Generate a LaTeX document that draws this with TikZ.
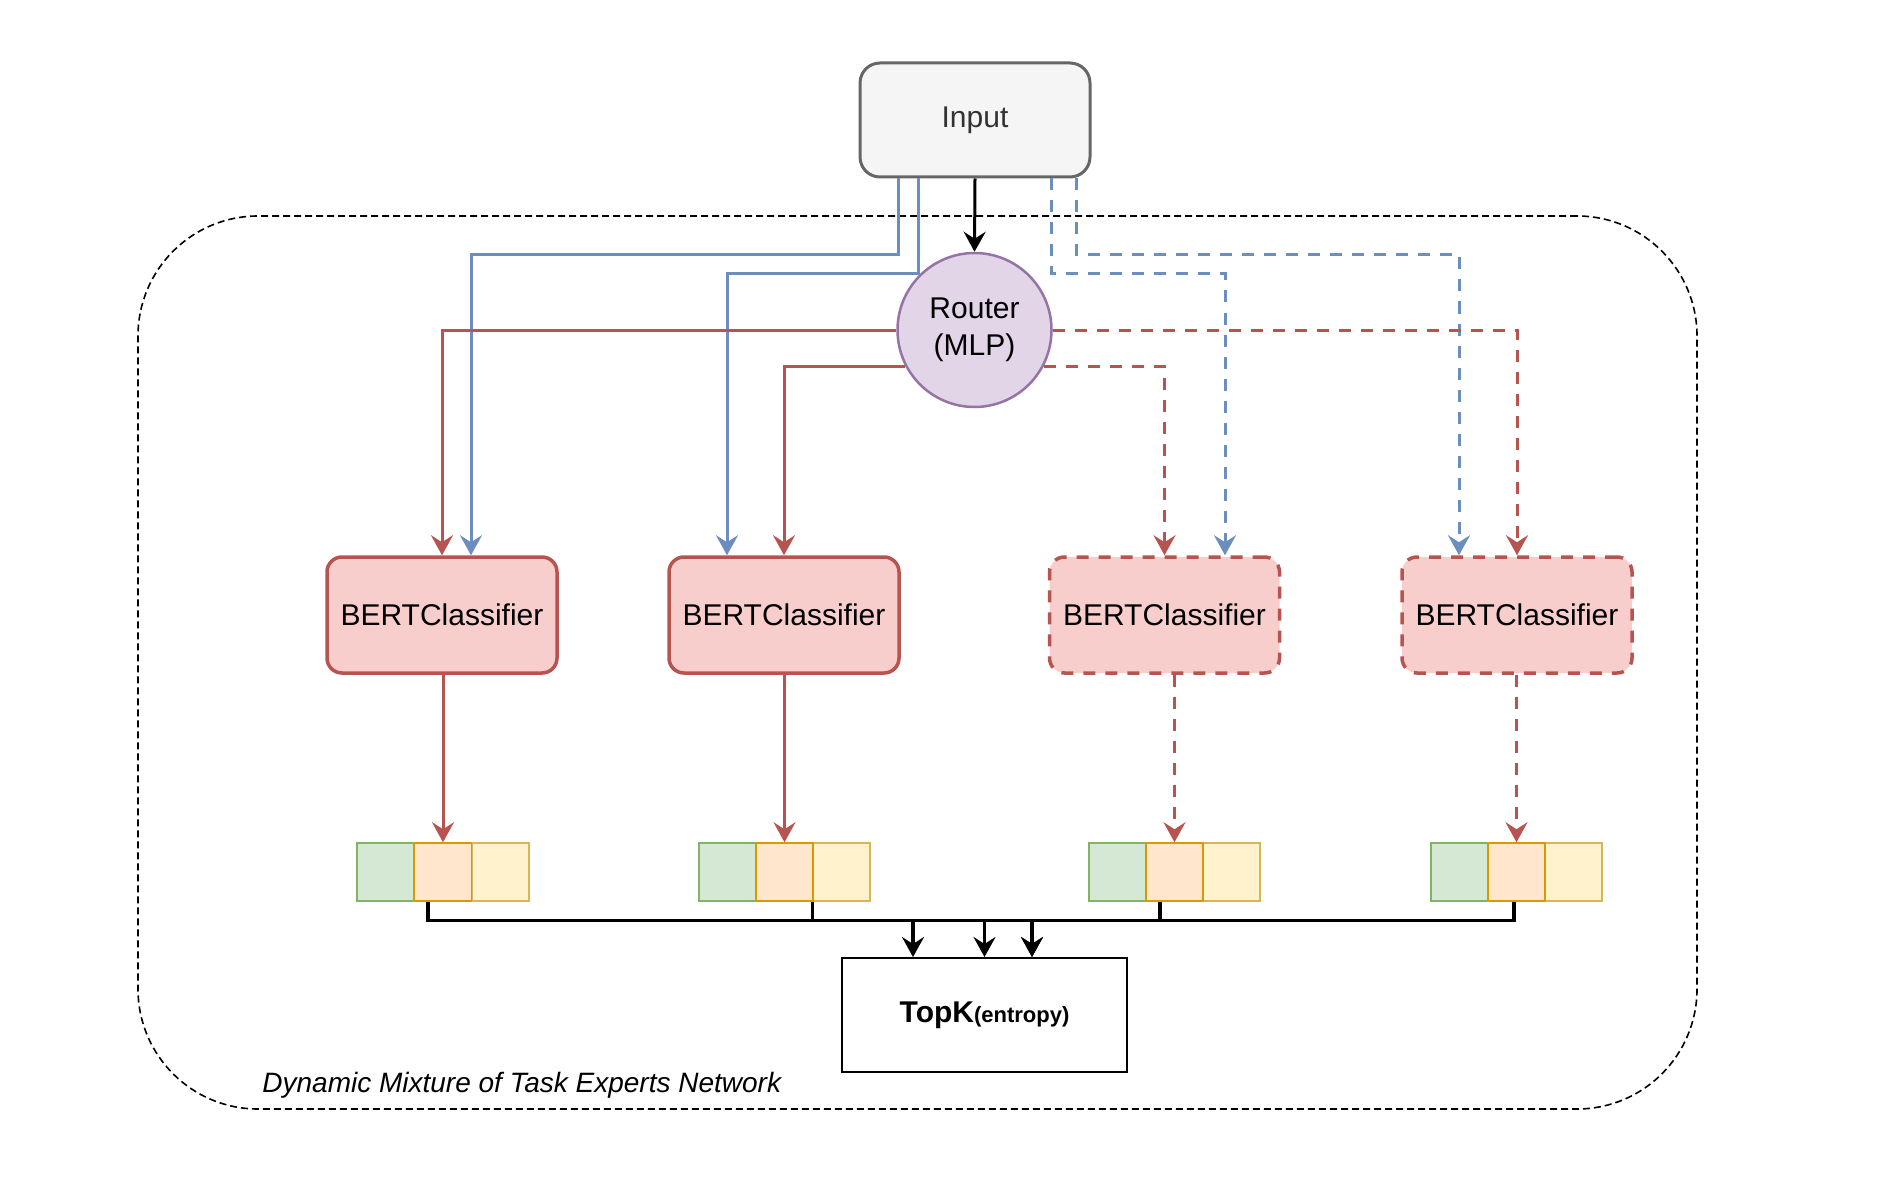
\documentclass[tikz,border=0pt]{standalone}
\usepackage{fontspec}
\setmainfont{Liberation Sans}
\usetikzlibrary{arrows.meta,calc}
\definecolor{redS}{HTML}{B85450}
\definecolor{redF}{HTML}{F8CECC}
\definecolor{blueS}{HTML}{6C8EBF}
\definecolor{purpleS}{HTML}{9673A6}
\definecolor{purpleF}{HTML}{E1D5E7}
\definecolor{greyS}{HTML}{666666}
\definecolor{greyF}{HTML}{F5F5F5}
\definecolor{txtGrey}{HTML}{333333}
\definecolor{greenS}{HTML}{82B366}
\definecolor{greenF}{HTML}{D5E8D4}
\definecolor{orangeS}{HTML}{D79B00}
\definecolor{orangeF}{HTML}{FFE6CC}
\definecolor{yellowS}{HTML}{D6B656}
\definecolor{yellowF}{HTML}{FFF2CC}
\tikzset{
  container/.style={draw=black, line width=0.8pt, dash pattern=on 3.5pt off 2pt, rounded corners=60pt, minimum width=779.5pt, minimum height=446.5pt, inner sep=0pt},
  inputbox/.style={draw=greyS, fill=greyF, line width=1.5pt, rounded corners=10pt, minimum width=115pt, minimum height=57pt, inner sep=0pt, text=txtGrey},
  routerbox/.style={circle, draw=purpleS, fill=purpleF, line width=1.25pt, minimum size=77pt, inner sep=0pt, align=center, font=\fontsize{15}{18.5}\selectfont},
  bertbox/.style={draw=redS, fill=redF, line width=1.75pt, rounded corners=7.5pt, minimum width=115pt, minimum height=58pt, inner sep=0pt},
  bertdash/.style={bertbox, dash pattern=on 6pt off 5pt},
  cell/.style={line width=0.75pt, minimum width=28.5pt, minimum height=29pt, inner sep=0pt},
  gcell/.style={cell, draw=greenS, fill=greenF},
  ocell/.style={cell, draw=orangeS, fill=orangeF},
  ycell/.style={cell, draw=yellowS, fill=yellowF},
  topkbox/.style={draw=black, line width=1pt, minimum width=142.5pt, minimum height=57pt, inner sep=0pt},
  arr/.style={-{Stealth[length=10pt,width=11pt,inset=3.5pt]}},
  redline/.style={arr, draw=redS, line width=1.5pt},
  reddash/.style={redline, dash pattern=on 6pt off 5pt},
  blueline/.style={arr, draw=blueS, line width=1.5pt},
  bluedash/.style={blueline, dash pattern=on 6pt off 5pt},
  blackline/.style={arr, draw=black, line width=1.5pt},
  busline/.style={arr, draw=black, line width=1.7pt},
  lbl/.style={font=\itshape\fontsize{14}{17}\selectfont, inner sep=0pt}
}
\begin{document}
\begin{tikzpicture}[x=0.5pt, y=-0.5pt, font=\fontsize{15}{18}\selectfont]
\useasboundingbox (0,0) rectangle (1884,1182);

% container
\node[container] (net) at (917.5,662.5) {};
\node[lbl, anchor=base west] (netlabel) at (262,1092) {Dynamic Mixture of Task Experts Network};

% main nodes
\node[inputbox] (input) at (975,120) {Input};
\node[routerbox] (router) at (974.5,330) {Router\\(MLP)};

\node[bertbox]  (bert1) at (442,615)    {BERTClassifier};
\node[bertbox]  (bert2) at (784,615)    {BERTClassifier};
\node[bertdash] (bert3) at (1164.5,615) {BERTClassifier};
\node[bertdash] (bert4) at (1517,615)   {BERTClassifier};

% output cells
\node[gcell] (g1a) at (385.5,872) {};
\node[ycell] (g1c) at (500.5,872) {};
\node[ocell] (g1b) at (443,872) {};
\node[gcell] (g2a) at (727.5,872) {};
\node[ycell] (g2c) at (841.5,872) {};
\node[ocell] (g2b) at (784.5,872) {};
\node[gcell] (g3a) at (1117.5,872) {};
\node[ycell] (g3c) at (1231.5,872) {};
\node[ocell] (g3b) at (1174.5,872) {};
\node[gcell] (g4a) at (1459.5,872) {};
\node[ycell] (g4c) at (1573.5,872) {};
\node[ocell] (g4b) at (1516.5,872) {};

\node[topkbox] (topk) at (984.5,1015) {\bfseries TopK{\fontsize{11}{13}\selectfont (entropy)}};

% input -> router
\draw[blackline] (input.south) -- (router.north);

% input -> experts (blue)
\draw[blueline] ([xshift=-38.25pt]input.south) -- ++(0,76) -| ([xshift=14.5pt]bert1.north);
\draw[blueline] ([xshift=-28.5pt]input.south) -- ++(0,95) -| ([xshift=-28.5pt]bert2.north);
\draw[bluedash] ([xshift=38pt]input.south) -- ++(0,95) -| ([xshift=30.25pt]bert3.north);
\draw[bluedash] ([xshift=50.5pt]input.south) -- ++(0,76) -| ([xshift=-29pt]bert4.north);

% router -> experts (red)
\draw[redline] (router.west) -| (bert1.north);
\draw[redline] (router.208.7) -| (bert2.north);
\draw[reddash] (router.-28.7) -| (bert3.north);
\draw[reddash] (router.east) -| (bert4.north);

% experts -> outputs
\draw[redline] (bert1.south -| g1b.north) -- (g1b.north);
\draw[redline] (bert2.south -| g2b.north) -- (g2b.north);
\draw[reddash] (bert3.south -| g3b.north) -- (g3b.north);
\draw[reddash] (bert4.south -| g4b.north) -- (g4b.north);

% outputs -> TopK
\draw[busline] ([xshift=-7.5pt]g1b.south) -- ++(0,19) -| ([xshift=-35.75pt]topk.north);
\draw[busline] (g2c.south west) -- ++(0,19) -| ([xshift=23.75pt]topk.north);
\draw[busline] ([xshift=-7.25pt]g3b.south) -- ++(0,19) -| (topk.north);
\draw[busline] ([xshift=-1.25pt]g4b.south) -- ++(0,19) -| ([xshift=23.75pt]topk.north);
\end{tikzpicture}
\end{document}
